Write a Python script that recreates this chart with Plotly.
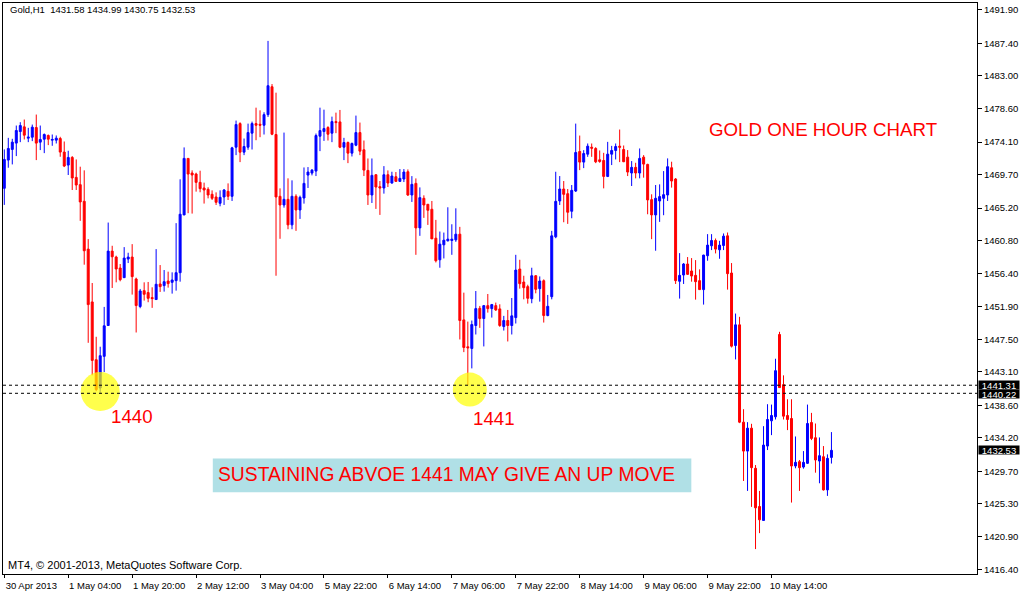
import plotly.graph_objects as go

# ---- data ----
opens = [1467.86,1471.66,1473.10,1473.95,1475.51,1476.14,1474.62,1474.75,1476.05,1474.08,
1474.48,1474.98,1474.35,1474.35,1474.57,1472.74,1470.99,1472.02,1469.33,1468.35,
1466.11,1459.66,1452.54,1444.75,1440.94,1445.20,1449.36,1459.39,1458.59,1457.11,
1455.81,1458.32,1458.59,1455.63,1451.92,1454.06,1453.80,1453.12,1452.86,1454.96,
1454.74,1455.36,1455.18,1455.41,1456.48,1464.27,1471.89,1469.92,1469.78,1468.66,
1467.90,1467.72,1467.05,1466.69,1465.84,1466.69,1467.45,1466.78,1473.40,1476.58,
1472.73,1473.40,1475.29,1476.58,1476.49,1476.36,1477.79,1481.55,1475.11,1466.78,
1465.61,1466.37,1462.93,1466.78,1464.94,1466.55,1469.64,1469.91,1470.18,1474.88,
1475.51,1476.05,1475.29,1476.85,1476.81,1473.40,1474.03,1472.60,1473.67,1475.37,
1473.05,1470.27,1466.96,1469.69,1468.08,1467.90,1469.69,1468.57,1469.42,1468.79,
1469.11,1470.09,1466.96,1468.52,1462.52,1466.51,1465.70,1465.03,1461.13,1458.22,
1460.24,1460.78,1460.82,1460.91,1461.67,1450.12,1446.49,1446.27,1449.36,1451.68,
1450.30,1452.04,1451.64,1452.04,1451.60,1449.22,1450.03,1449.36,1450.43,1456.97,
1455.22,1454.60,1452.98,1456.07,1454.33,1455.40,1450.70,1453.25,1461.31,1466.15,
1467.76,1467.13,1464.76,1467.49,1472.82,1471.39,1472.46,1473.40,1473.22,1471.70,
1471.61,1469.46,1472.46,1472.96,1473.54,1473.09,1472.06,1469.92,1470.68,1469.92,
1472.06,1471.08,1466.33,1464.27,1466.15,1466.51,1466.96,1470.63,1469.11,1455.32,
1456.17,1457.65,1456.71,1456.12,1455.41,1454.20,1458.77,1460.11,1460.82,1459.57,
1460.15,1461.45,1456.44,1446.67,1449.45,1436.33,1432.43,1435.52,1430.11,1424.96,
1423.08,1433.11,1436.51,1437.05,1448.15,1441.39,1437.23,1436.82,1430.42,1431.00,
1430.28,1430.78,1436.29,1434.23,1431.09,1431.67,1427.20,1431.58]

highs = [1473.10,1474.66,1474.53,1476.32,1476.77,1477.13,1476.01,1476.45,1477.80,1476.32,
1475.25,1475.11,1475.11,1474.98,1474.80,1474.17,1472.92,1472.20,1471.75,1470.77,
1470.28,1461.01,1455.09,1447.84,1446.50,1451.87,1463.24,1460.11,1458.77,1457.65,
1459.93,1459.17,1460.33,1455.81,1454.29,1455.18,1455.23,1454.51,1459.66,1457.51,
1456.84,1456.62,1456.53,1463.16,1469.07,1473.37,1471.89,1470.28,1469.96,1470.23,
1468.62,1468.00,1467.58,1467.31,1467.58,1467.76,1468.52,1473.45,1476.99,1476.76,
1474.57,1476.58,1476.85,1478.73,1478.37,1478.11,1487.73,1481.91,1480.75,1467.85,
1475.37,1469.20,1468.93,1467.05,1466.87,1470.67,1470.72,1470.45,1475.24,1478.73,
1478.46,1476.23,1477.52,1478.06,1478.42,1474.66,1474.17,1474.03,1477.66,1476.72,
1474.30,1471.88,1471.88,1469.73,1468.84,1470.85,1470.27,1470.09,1470.05,1470.45,
1470.45,1470.40,1469.50,1469.19,1467.98,1466.91,1465.75,1466.15,1463.60,1462.03,
1461.89,1465.30,1463.01,1465.16,1462.66,1453.79,1449.89,1450.03,1454.01,1452.00,
1452.13,1453.61,1452.27,1452.45,1452.22,1450.66,1451.46,1453.07,1458.89,1458.22,
1456.07,1454.86,1457.15,1456.16,1455.98,1455.58,1453.48,1462.12,1470.09,1469.51,
1468.84,1467.76,1468.30,1476.58,1474.97,1473.00,1473.90,1473.90,1473.40,1472.96,
1472.64,1474.12,1473.58,1473.90,1475.78,1473.63,1473.01,1471.53,1471.30,1473.23,
1472.33,1471.17,1467.05,1468.30,1468.39,1470.18,1471.89,1471.44,1469.24,1459.12,
1457.78,1458.59,1458.45,1458.18,1456.93,1458.90,1461.68,1461.68,1461.09,1460.78,
1461.77,1461.90,1457.78,1450.97,1450.53,1438.08,1436.33,1436.11,1430.55,1427.06,
1435.79,1438.75,1438.70,1444.88,1448.51,1442.64,1439.42,1439.42,1434.40,1431.23,
1432.43,1438.70,1437.58,1436.15,1434.27,1433.11,1431.99,1434.99]

lows = [1465.62,1470.63,1471.08,1472.20,1474.08,1474.44,1474.08,1474.22,1471.66,1473.01,
1472.60,1473.68,1473.59,1473.90,1472.11,1470.72,1469.65,1467.63,1467.63,1463.47,
1457.56,1447.03,1442.65,1440.50,1440.22,1443.09,1449.36,1454.42,1455.18,1455.32,
1455.77,1457.78,1453.53,1448.42,1451.69,1452.72,1452.50,1451.74,1452.86,1453.89,
1453.93,1454.47,1453.66,1454.06,1455.27,1464.23,1464.50,1464.45,1467.41,1467.32,
1465.80,1466.50,1466.28,1465.61,1465.43,1465.61,1466.28,1466.15,1472.33,1471.39,
1472.33,1473.05,1473.09,1474.34,1474.75,1475.11,1477.48,1475.02,1456.07,1461.05,
1465.25,1462.34,1462.34,1462.12,1463.73,1465.79,1467.90,1469.60,1469.51,1472.87,
1474.25,1474.30,1474.08,1475.29,1473.27,1471.66,1471.25,1472.15,1473.54,1472.33,
1469.51,1465.61,1465.88,1465.08,1464.27,1467.14,1468.03,1468.48,1468.79,1468.79,
1468.70,1466.82,1466.02,1458.89,1461.45,1463.87,1462.92,1461.04,1457.86,1457.15,
1458.40,1460.69,1458.89,1460.64,1447.48,1445.77,1441.31,1443.58,1448.15,1449.04,
1446.54,1451.10,1450.43,1451.33,1449.18,1448.68,1447.21,1448.15,1449.63,1454.33,
1452.89,1452.31,1452.36,1453.70,1452.58,1449.76,1450.61,1452.89,1461.13,1465.61,
1463.28,1463.06,1463.82,1467.36,1470.31,1470.58,1472.10,1472.10,1471.25,1471.30,
1467.85,1469.37,1470.99,1471.75,1471.39,1471.39,1469.51,1468.17,1469.20,1469.20,
1469.29,1464.36,1461.00,1459.44,1463.33,1464.23,1466.15,1467.95,1454.96,1452.99,
1454.96,1456.17,1455.27,1452.85,1454.15,1452.18,1458.09,1459.53,1459.08,1458.36,
1459.53,1454.20,1446.40,1444.79,1436.20,1428.40,1427.06,1424.91,1419.22,1421.37,
1423.08,1432.57,1434.58,1436.69,1440.99,1436.69,1435.26,1425.49,1430.11,1427.06,
1430.06,1430.69,1433.91,1429.52,1428.09,1427.11,1426.39,1430.75]

closes = [1471.75,1473.23,1474.08,1475.65,1476.32,1475.02,1474.75,1476.10,1473.95,1474.44,
1475.11,1474.48,1474.44,1474.62,1472.74,1470.86,1472.02,1469.25,1468.30,1466.02,
1459.44,1452.18,1444.66,1440.72,1445.29,1449.32,1459.39,1458.63,1456.98,1455.54,
1458.45,1458.59,1455.95,1452.05,1454.02,1453.57,1453.03,1452.99,1454.92,1454.60,
1455.27,1455.01,1455.50,1456.48,1464.36,1471.89,1469.78,1469.65,1468.66,1467.81,
1467.63,1466.96,1466.51,1465.97,1466.64,1467.63,1466.78,1473.31,1476.45,1472.73,
1473.49,1475.37,1476.58,1476.36,1476.36,1477.79,1481.69,1475.15,1466.69,1465.61,
1466.37,1462.93,1466.78,1464.94,1466.64,1468.52,1470.05,1470.31,1474.97,1475.64,
1475.91,1475.15,1476.85,1476.72,1473.40,1474.03,1472.60,1473.90,1475.37,1472.87,
1470.31,1466.96,1469.60,1468.03,1467.90,1469.69,1468.57,1469.51,1468.79,1469.20,
1470.05,1466.96,1468.39,1462.52,1466.60,1465.61,1464.90,1461.04,1458.09,1460.33,
1460.86,1461.00,1461.00,1461.67,1450.03,1446.40,1446.36,1449.49,1451.64,1450.30,
1452.04,1451.64,1452.18,1451.46,1449.36,1450.03,1449.36,1450.66,1456.83,1455.00,
1454.46,1453.03,1456.07,1454.24,1455.36,1450.70,1451.95,1461.45,1466.10,1467.76,
1467.04,1464.63,1467.58,1472.69,1471.39,1472.55,1473.54,1473.27,1471.43,1471.48,
1469.46,1472.46,1472.96,1473.49,1473.40,1471.44,1470.05,1470.68,1469.92,1471.89,
1471.12,1466.29,1464.27,1466.51,1466.74,1467.00,1470.77,1468.84,1455.41,1456.12,
1457.65,1456.26,1456.03,1455.27,1454.20,1458.85,1460.20,1460.82,1459.66,1460.20,
1461.41,1456.35,1446.58,1449.45,1436.33,1432.43,1435.52,1430.20,1424.78,1423.17,
1433.24,1436.69,1437.23,1443.27,1440.99,1437.14,1436.69,1430.42,1430.91,1430.20,
1430.91,1436.15,1434.14,1431.23,1431.81,1427.20,1431.45,1432.53]

bar_index = list(range(len(opens)))

time_tick_bars = [0, 16, 32, 48, 64, 80, 96, 112, 128, 144, 160, 176, 192]
time_tick_labels = ["30 Apr 2013", "1 May 04:00", "1 May 20:00", "2 May 12:00",
                    "3 May 04:00", "5 May 22:00", "6 May 14:00", "7 May 06:00",
                    "7 May 22:00", "8 May 14:00", "9 May 06:00", "9 May 22:00",
                    "10 May 14:00"]

price_ticks = [1491.90, 1487.40, 1483.00, 1478.60, 1474.10, 1469.70, 1465.20, 1460.80,
               1456.40, 1451.90, 1447.50, 1443.10, 1438.60, 1434.20, 1429.70, 1425.30,
               1420.90, 1416.40]

support_levels = [1441.31, 1440.22]
last_price = 1432.53

highlight_bars = [24, 116.5]
highlight_prices = [1440.45, 1440.72]

FONT = "Liberation Sans"

fig = go.Figure()

fig.add_trace(go.Scatter(
    x=highlight_bars, y=highlight_prices, mode="markers",
    marker=dict(size=[39, 34], color="#FFFF00", line=dict(width=0)),
    hoverinfo="skip", showlegend=False))

fig.add_trace(go.Candlestick(
    x=bar_index, open=opens, high=highs, low=lows, close=closes,
    increasing=dict(line=dict(color="#0000FF", width=1), fillcolor="#0000FF"),
    decreasing=dict(line=dict(color="#FF0000", width=1), fillcolor="#FF0000"),
    whiskerwidth=0, showlegend=False))

for lvl in support_levels:
    fig.add_shape(type="line", xref="paper", x0=0, x1=1, yref="y", y0=lvl, y1=lvl,
                  line=dict(color="black", width=1, dash="3px,3px"))

# price boxes on the right axis (upper one nudged up, lower one down so they just touch)
for lvl, shift in zip(support_levels + [last_price], [0.5, -0.5, 0]):
    fig.add_annotation(xref="paper", x=1, xanchor="left", xshift=1,
                       yref="y", y=lvl, yanchor="middle", yshift=shift,
                       text=f"{lvl:.2f}", showarrow=False,
                       font=dict(family=FONT, size=9.5, color="white"),
                       bgcolor="black", borderpad=0, width=40, height=8)

red_big = dict(family=FONT, size=18.7, color="#FF0000")
red_box = dict(family=FONT, size=19.3, color="#FF0000")
small = dict(family=FONT, size=9.5, color="black")
footer = dict(family=FONT, size=11, color="black")

fig.add_annotation(xref="paper", yref="paper", x=0.0051, y=0.9878, xanchor="left", yanchor="middle",
                   text="Gold,H1\u00a0\u00a01431.58 1434.99 1430.75 1432.53", showarrow=False, font=small)
fig.add_annotation(xref="paper", yref="paper", x=0.0031, y=0.0157, xanchor="left", yanchor="middle",
                   text="MT4, \u00a9 2001-2013, MetaQuotes Software Corp.", showarrow=False, font=footer)
fig.add_annotation(xref="paper", yref="paper", x=0.8421, y=0.7792, xanchor="center", yanchor="middle",
                   text="GOLD ONE HOUR CHART", showarrow=False, font=red_big)
fig.add_annotation(xref="paper", yref="paper", x=0.1328, y=0.2757, xanchor="center", yanchor="middle",
                   text="1440", showarrow=False, font=red_big)
fig.add_annotation(xref="paper", yref="paper", x=0.5046, y=0.2723, xanchor="center", yanchor="middle",
                   text="1441", showarrow=False, font=red_big)
fig.add_shape(type="rect", xref="paper", yref="paper", x0=0.2154, x1=0.7067, y0=0.1431, y1=0.2024,
              fillcolor="#B0E0E6", line=dict(width=0), layer="below")
fig.add_annotation(xref="paper", yref="paper", x=0.2185, y=0.1736, xanchor="left", yanchor="middle",
                   text="SUSTAINING ABVOE 1441 MAY GIVE AN UP MOVE", showarrow=False, font=red_box)

fig.update_layout(
    width=1020, height=593,
    margin=dict(l=2, r=43, t=3, b=17),
    paper_bgcolor="white", plot_bgcolor="white",
    showlegend=False,
    font=dict(family=FONT, size=9.5, color="black"),
    xaxis=dict(range=[-0.325, 243.425], rangeslider=dict(visible=False),
               tickmode="array", tickvals=time_tick_bars, ticktext=time_tick_labels,
               ticks="outside", ticklen=3, tickcolor="black", tickwidth=1,
               showline=True, linecolor="black", linewidth=1, mirror=True,
               showgrid=False, zeroline=False, ticklabelshift=27, ticklabelstandoff=0,
               tickfont=dict(family=FONT, size=9.5, color="black")),
    yaxis=dict(range=[1415.86, 1492.84], side="right",
               tickmode="array", tickvals=price_ticks, ticktext=[f"{v:.2f}" for v in price_ticks],
               ticks="outside", ticklen=4, tickcolor="black", tickwidth=1,
               showline=True, linecolor="black", linewidth=1, mirror=True,
               showgrid=False, zeroline=False,
               tickfont=dict(family=FONT, size=9.5, color="black")),
)

fig.write_html("out.html", config={"displayModeBar": False},
               post_script="document.body.style.margin='0';document.body.style.overflow='hidden';")
